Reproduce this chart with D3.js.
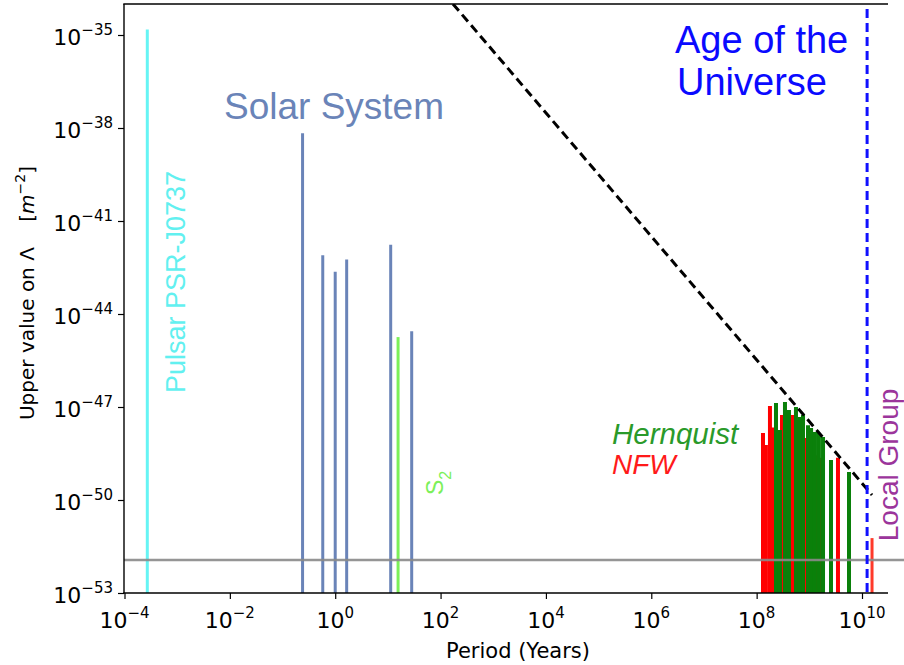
<!DOCTYPE html>
<html><head><meta charset="utf-8">
<script src="https://cdn.jsdelivr.net/npm/d3@7"></script>
<style>body{margin:0;background:#fff}svg{display:block}text{white-space:pre}</style>
</head><body><svg id="c" width="904" height="665"></svg>
<script>
// ---- data ----
const pulsarPeriod = [2.71e-4];
const pulsarLambda = [1.5e-35];
const solarPeriods = [0.24, 0.58, 1.0, 1.65, 11.3, 28.3];
const solarLambda  = [6.8e-39, 7.9e-43, 2.3e-43, 5.7e-43, 1.7e-42, 2.8e-45];
const s2Period = [15.6];
const s2Lambda = [1.8e-45];
const nfwPeriods = [1.32e8, 1.50e8, 1.79e8, 2.04e8, 2.54e8, 3.03e8, 3.77e8, 4.69e8, 6.37e8, 8.65e8, 1.12e9, 1.40e9, 1.74e9, 3.50e9];
const nfwLambda  = [1.45e-48, 5.9e-49, 1.07e-47, 2.2e-48, 8.7e-49, 5.5e-48, 8.0e-48, 5.5e-48, 3.8e-48, 1.0e-48, 1.56e-48, 2.8e-49, 2.3e-49, 2.3e-49];
const hernPeriods = [2.33e8, 2.77e8, 3.45e8, 4.11e8, 5.58e8, 6.65e8, 7.59e8, 9.44e8, 1.08e9, 1.28e9, 1.52e9, 1.82e9, 2.58e9, 5.66e9];
const hernLambda  = [1.35e-47, 1.8e-48, 1.45e-47, 8.0e-48, 1.0e-47, 4.8e-48, 5.5e-48, 2.6e-48, 2.1e-48, 1.56e-48, 1.45e-48, 1.07e-48, 1.95e-49, 8.0e-50];
const localGroupPeriod = [1.55e10];
const localGroupLambda = [5.9e-52];
const boundPeriods = [172, 1.55e10];
const boundLambda  = [1e-34, 1.45e-50];
const ageUniverse = [1.25e10];
const thresholdLambda = [1.16e-52];
const xTicks = [1e-4, 1e-2, 1, 1e2, 1e4, 1e6, 1e8, 1e10];
const xTickExp = ["\u22124", "\u22122", "0", "2", "4", "6", "8", "10"];
const yTicks = [1e-53, 1e-50, 1e-47, 1e-44, 1e-41, 1e-38, 1e-35];
const yTickExp = ["\u221253", "\u221250", "\u221247", "\u221244", "\u221241", "\u221238", "\u221235"];

// ---- layout ----
const svg = d3.select("#c");
const L = 124, T = 4, B = 593, R = 888;
const x = d3.scaleLog().domain([1e-4, 1e10]).range([124.5, 862]);
const y = d3.scaleLog().domain([1e-53, 1e-35]).range([593, 35]);
const axisFont = "'DejaVu Sans', sans-serif";
const annFont = "'Liberation Sans', Arial, sans-serif";

svg.append("defs").append("clipPath").attr("id", "clip")
  .append("rect").attr("x", L).attr("y", T).attr("width", 904 - L).attr("height", B - T);
const g = svg.append("g").attr("clip-path", "url(#clip)");

function bars(periods, lambdas, color, w) {
  g.append("g").selectAll("line")
    .data(periods.map((p, i) => ({ p, l: lambdas[i] })))
    .enter().append("line")
    .attr("x1", d => x(d.p)).attr("x2", d => x(d.p))
    .attr("y1", y(1e-53)).attr("y2", d => y(d.l))
    .attr("stroke", color).attr("stroke-width", w);
}

bars(pulsarPeriod, pulsarLambda, "#66f4f4", 3);
bars(solarPeriods, solarLambda, "#6a84b8", 3);
bars(s2Period, s2Lambda, "#7cf05a", 3);
bars(nfwPeriods, nfwLambda, "#ff0000", 4);
bars(hernPeriods, hernLambda, "#0a800a", 4);
bars(localGroupPeriod, localGroupLambda, "#ff3a2a", 3);

// threshold line
g.append("line")
  .attr("x1", L).attr("x2", 904)
  .attr("y1", y(thresholdLambda[0])).attr("y2", y(thresholdLambda[0]))
  .attr("stroke", "#8a8a8a").attr("stroke-width", 2.5).attr("stroke-opacity", 0.9);

// bound dashed line
g.append("path")
  .datum(boundPeriods.map((p, i) => [p, boundLambda[i]]))
  .attr("d", d3.line().x(d => x(d[0])).y(d => y(d[1])))
  .attr("fill", "none").attr("stroke", "#000").attr("stroke-width", 3)
  .attr("stroke-dasharray", "9,5");

// age of the universe
g.append("line")
  .attr("x1", x(ageUniverse[0])).attr("x2", x(ageUniverse[0]))
  .attr("y1", 9).attr("y2", B)
  .attr("stroke", "#1010ff").attr("stroke-width", 3)
  .attr("stroke-dasharray", "9,5");

// spines
const sp = svg.append("g").attr("stroke", "#000").attr("stroke-width", 1.4);
sp.append("line").attr("x1", L).attr("x2", L).attr("y1", T).attr("y2", B);
sp.append("line").attr("x1", L - 0.7).attr("x2", R).attr("y1", T).attr("y2", T);
sp.append("line").attr("x1", L - 0.7).attr("x2", R).attr("y1", B).attr("y2", B);

// axes (ticks only)
const xa = svg.append("g").attr("transform", `translate(0,${B})`)
  .call(d3.axisBottom(x).tickValues(xTicks).tickSize(6).tickFormat(""));
xa.select(".domain").remove();
xa.selectAll("line").attr("stroke-width", 1.2);
const ya = svg.append("g").attr("transform", `translate(${L},0)`)
  .call(d3.axisLeft(y).tickValues(yTicks).tickSize(6).tickFormat(""));
ya.select(".domain").remove();
ya.selectAll("line").attr("stroke-width", 1.2);

// x tick labels
xTicks.forEach((v, i) => {
  const t = svg.append("text").attr("x", x(v)).attr("y", 628)
    .attr("text-anchor", "middle").attr("font-family", axisFont).attr("font-size", 22).attr("fill", "#000");
  t.append("tspan").text("10");
  t.append("tspan").attr("dy", -10).attr("font-size", 15).text(xTickExp[i]);
});
// y tick labels
yTicks.forEach((v, i) => {
  const t = svg.append("text").attr("x", 113).attr("y", y(v) + 10)
    .attr("text-anchor", "end").attr("font-family", axisFont).attr("font-size", 22).attr("fill", "#000");
  t.append("tspan").text("10");
  t.append("tspan").attr("dy", -10).attr("font-size", 15).text(yTickExp[i]);
});

// axis titles
svg.append("text").attr("x", 518).attr("y", 658).attr("text-anchor", "middle")
  .attr("font-family", axisFont).attr("font-size", 21).text("Period (Years)");
const yl = svg.append("text").attr("transform", "translate(34,293) rotate(-90)")
  .attr("text-anchor", "middle").attr("font-family", axisFont).attr("font-size", 20);
yl.append("tspan").text("Upper value on \u039B    [");
yl.append("tspan").attr("font-style", "italic").text("m");
yl.append("tspan").attr("dy", -9).attr("font-size", 14).text("\u22122");
yl.append("tspan").attr("dy", 9).text("]");

// annotations
svg.append("text").attr("x", 224).attr("y", 119).attr("font-family", annFont)
  .attr("font-size", 37).attr("fill", "#6a84b8").text("Solar System");
svg.append("text").attr("transform", "translate(185,282) rotate(-90)").attr("text-anchor", "middle")
  .attr("font-family", annFont).attr("font-size", 27).attr("fill", "#62f0f0").text("Pulsar PSR-J0737");
const s2 = svg.append("text").attr("transform", "translate(443,495) rotate(-90)")
  .attr("font-family", annFont).attr("font-size", 23).attr("fill", "#7cf05a");
s2.append("tspan").text("S");
s2.append("tspan").attr("dy", 8).attr("font-size", 16).text("2");
svg.append("text").attr("x", 612).attr("y", 444).attr("font-family", annFont).attr("font-style", "italic")
  .attr("font-size", 29.5).attr("fill", "#2a9a2a").text("Hernquist");
svg.append("text").attr("x", 612).attr("y", 474).attr("font-family", annFont).attr("font-style", "italic")
  .attr("font-size", 28).attr("fill", "#ff1a1a").text("NFW");
svg.append("text").attr("x", 675).attr("y", 53).attr("font-family", annFont)
  .attr("font-size", 38).attr("fill", "#0a0aff").text("Age of the");
svg.append("text").attr("x", 677).attr("y", 95).attr("font-family", annFont)
  .attr("font-size", 38).attr("fill", "#0a0aff").text("Universe");
svg.append("text").attr("transform", "translate(898,465) rotate(-90)").attr("text-anchor", "middle")
  .attr("font-family", annFont).attr("font-size", 28).attr("fill", "#9b359b").text("Local Group");
</script>
</body></html>
